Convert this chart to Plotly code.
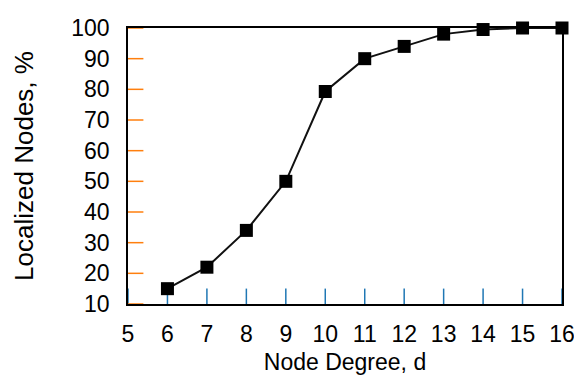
import plotly.graph_objects as go

node_degree = [6, 7, 8, 9, 10, 11, 12, 13, 14, 15, 16]
localized_pct = [15, 22, 34, 50, 79.3, 90, 94, 98, 99.5, 100, 100]
x_ticks = list(range(5, 17))
y_ticks = list(range(10, 101, 10))
x_range = [5, 16]
y_range = [10, 100]

regular = "Liberation Sans, Arial, Helvetica, sans-serif"

fig = go.Figure()
# inward tick marks, drawn from the tick arrays through the axis scales (clipped to the plot area)
fig.add_trace(go.Scatter(
    x=x_ticks, y=[y_range[0]] * len(x_ticks), mode="markers",
    marker=dict(symbol="line-ns-open", size=22, line=dict(color="black", width=1.5)),
    showlegend=False, hoverinfo="skip", cliponaxis=True,
))
fig.add_trace(go.Scatter(
    x=[x_range[0]] * len(y_ticks), y=y_ticks, mode="markers",
    marker=dict(symbol="line-ew-open", size=22, line=dict(color="black", width=1.5)),
    showlegend=False, hoverinfo="skip", cliponaxis=True,
))
fig.add_trace(go.Scatter(
    x=node_degree, y=localized_pct, mode="lines+markers",
    line=dict(color="#111111", width=2),
    marker=dict(symbol="square", size=13, color="black"),
    showlegend=False, cliponaxis=False,
))

fig.update_layout(
    template="none",
    width=582, height=382,
    margin=dict(l=120, r=28, t=20, b=86),
    paper_bgcolor="white", plot_bgcolor="white",
)
fig.update_xaxes(
    range=x_range, tickmode="array", tickvals=x_ticks, ticktext=[str(v) for v in x_ticks],
    showgrid=False, zeroline=False, automargin=False,
    showline=True, linecolor="black", linewidth=1.5, mirror=True,
    ticks="outside", ticklen=9, tickwidth=1, tickcolor="rgba(0,0,0,0)",
    tickfont=dict(family=regular, size=23, color="black"),
    title=dict(text="Node Degree, d", font=dict(family=regular, size=23, color="black"), standoff=8),
)
fig.update_yaxes(
    range=y_range, tickmode="array", tickvals=y_ticks, ticktext=[str(v) for v in y_ticks],
    showgrid=False, zeroline=False, automargin=False,
    showline=True, linecolor="black", linewidth=1.5, mirror=True,
    ticks="outside", ticklen=12, tickwidth=1, tickcolor="rgba(0,0,0,0)",
    tickfont=dict(family=regular, size=23, color="black"),
    title=dict(text="Localized Nodes, %", font=dict(family=regular, size=26, color="black"), standoff=30),
)

fig.write_html("out.html")
